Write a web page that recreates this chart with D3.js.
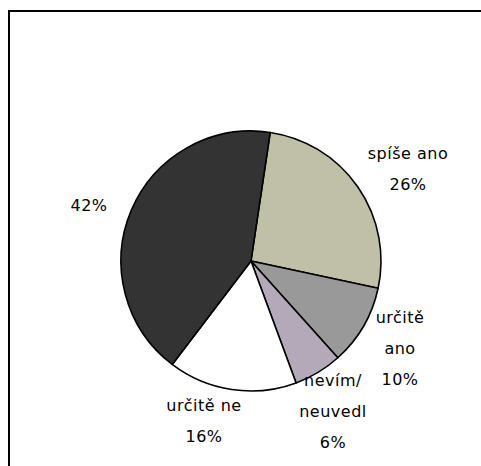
<!DOCTYPE html>
<html>
<head>
<meta charset="utf-8">
<script src="https://cdn.jsdelivr.net/npm/d3@7"></script>
<style>
body { margin: 0; background: #fff; }
text { font-family: "DejaVu Sans", sans-serif; font-size: 16px; letter-spacing: 0.5px; fill: #000; }
</style>
</head>
<body>
<div id="chart"></div>
<script>
var categories = ["spíše ano", "určitě ano", "nevím/ neuvedl", "určitě ne", "spíše ne"];
var values = [26, 10, 6, 16, 42];
var colors = ["#c0c0a8", "#999999", "#b4a9b8", "#ffffff", "#333333"];
// label lines (the 42% slice has no name shown)
var labelLines = [
	["spíše ano", "26%"],
	["určitě", "ano", "10%"],
	["nevím/", "neuvedl", "6%"],
	["určitě ne", "16%"],
	["42%"]
];
var labelPos = [[408, 153], [400, 317], [333, 380], [204, 405], [89, 205]];

var width = 481, height = 466;
var cx = 251, cy = 261, r = 130;
var startDeg = 8.5;

var svg = d3.select("#chart")
	.append("svg")
	.attr("width", width)
	.attr("height", height);

// frame (top and left visible)
svg.append("rect")
	.attr("x", 9).attr("y", 11)
	.attr("width", 490).attr("height", 480)
	.attr("fill", "none")
	.attr("stroke", "#000")
	.attr("stroke-width", 2);

var pie = d3.pie()
	.sort(null)
	.value(function(d) { return d; })
	.startAngle(startDeg * Math.PI / 180)
	.endAngle((startDeg + 360) * Math.PI / 180);

var arc = d3.arc().innerRadius(0).outerRadius(r);

var g = svg.append("g").attr("transform", "translate(" + cx + "," + cy + ")");

g.selectAll("path")
	.data(pie(values))
	.join("path")
	.attr("d", arc)
	.attr("fill", function(d, i) { return colors[i]; })
	.attr("stroke", "#000")
	.attr("stroke-width", 1.6)
	.attr("stroke-linejoin", "round");

var labels = svg.selectAll("text.lbl")
	.data(labelLines)
	.join("text")
	.attr("class", "lbl")
	.attr("text-anchor", "middle")
	.attr("x", function(d, i) { return labelPos[i][0]; })
	.attr("y", function(d, i) { return labelPos[i][1]; });

labels.selectAll("tspan")
	.data(function(d, i) { return d.map(function(t) { return {t: t, i: i}; }); })
	.join("tspan")
	.attr("x", function(d) { return labelPos[d.i][0]; })
	.attr("dy", function(d, j) { return j === 0 ? "0.35em" : 31; })
	.text(function(d) { return d.t; });
</script>
</body>
</html>
